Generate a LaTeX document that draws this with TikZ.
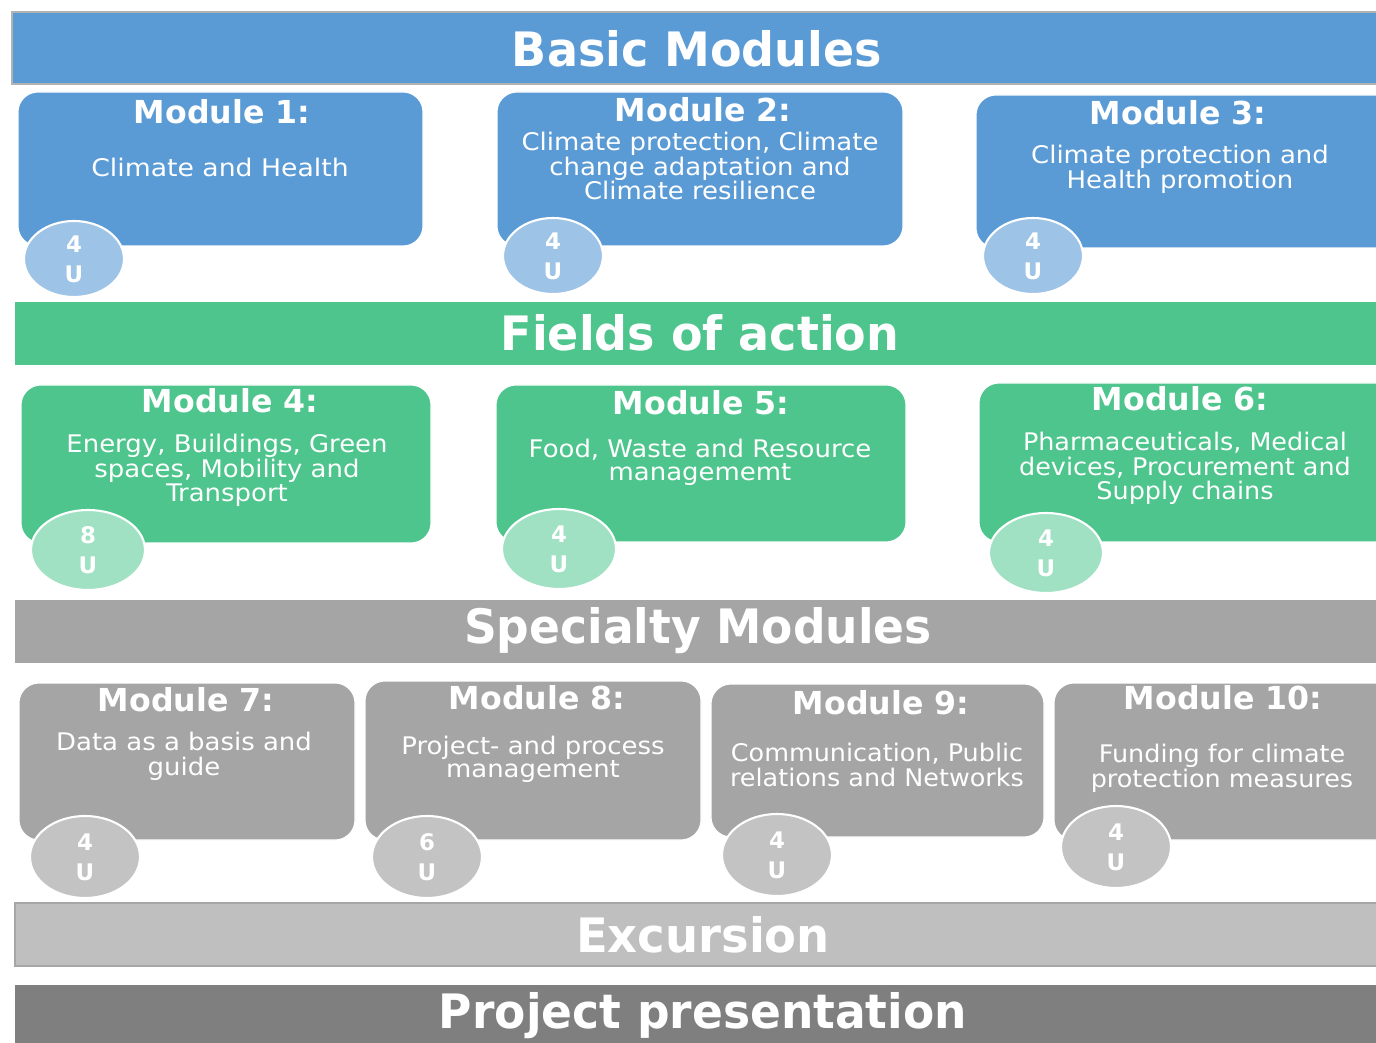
\documentclass[tikz,border=0pt]{standalone}
\usepackage{fontspec}
\setmainfont{DejaVu Sans}
\usetikzlibrary{positioning}
\definecolor{blueband}{HTML}{5B9BD5}
\definecolor{bluedot}{HTML}{9DC3E6}
\definecolor{greenband}{HTML}{4EC58D}
\definecolor{greendot}{HTML}{A0E1C4}
\definecolor{grayband}{HTML}{A5A5A5}
\definecolor{graydot}{HTML}{C3C3C3}
\definecolor{excband}{HTML}{BFBFBF}
\definecolor{presband}{HTML}{7F7F7F}
\renewcommand{\arraystretch}{0.92}
\begin{document}
\begin{tikzpicture}[x=0.02cm,y=-0.02cm,
	bandtitle/.style={text=white,font=\bfseries\fontsize{27}{27}\selectfont},
	modbox/.style={rounded corners=0.4cm,draw=white,line width=0.6pt},
	modtitle/.style={text=white,font=\bfseries\fontsize{18}{18}\selectfont,inner sep=0pt},
	modtext/.style={text=white,font=\fontsize{13.8}{13}\selectfont,align=center,inner sep=0pt},
	units/.style={text=white,align=center,inner sep=0pt,
		font=\bfseries\fontsize{13}{17}\selectfont}]
	\useasboundingbox (0,0) rectangle (1376,1043);
	\clip (0,0) rectangle (1376,1043);
	\fill[white] (0,0) rectangle (1376,1043);

	% basic modules
	\filldraw[blueband,draw=gray!60,line width=1pt] (12,12) rectangle (1390,84);
	\node[bandtitle] (basic) at (697,49) {\scalebox{0.97}[1]{Basic Modules}};

	\filldraw[modbox,fill=blueband] (18,92) rectangle (423,246);
	\node[modtitle] (m1) at (222,112) {Module 1:};
	\node[modtext] (t1) at (220,167) {\scalebox{1.1}[1]{Climate and Health}};
	\filldraw[fill=bluedot,draw=white,line width=1.2pt] (74,259) ellipse (50 and 38);
	\node[units] (u1) at (74,259) {4\\U};

	\filldraw[modbox,fill=blueband] (497,92) rectangle (903,246);
	\node[modtitle] (m2) at (703,110) {Module 2:};
	\node[modtext] (t2) at (700,169) {\scalebox{1.07}[1]{\begin{tabular}{@{}c@{}}Climate protection, Climate\\change adaptation and\\Climate resilience\end{tabular}}};
	\filldraw[fill=bluedot,draw=white,line width=1.2pt] (553,256) ellipse (50 and 38);
	\node[units] (u2) at (553,256) {4\\U};

	\filldraw[modbox,fill=blueband] (976,95) rectangle (1400,248);
	\node[modtitle] (m3) at (1178,113) {Module 3:};
	\node[modtext] (t3) at (1180,170) {\scalebox{1.07}[1]{\begin{tabular}{@{}c@{}}Climate protection and\\Health promotion\end{tabular}}};
	\filldraw[fill=bluedot,draw=white,line width=1.2pt] (1033,256) ellipse (50 and 38);
	\node[units] (u3) at (1033,256) {4\\U};

	% fields of action
	\fill[greenband] (15,302) rectangle (1390,365);
	\node[bandtitle] (fields) at (700,333) {\scalebox{0.97}[1]{Fields of action}};

	\filldraw[modbox,fill=greenband] (21,385) rectangle (431,543);
	\node[modtitle] (m4) at (230,401) {Module 4:};
	\node[modtext] (t4) at (227,471) {\scalebox{1.07}[1]{\begin{tabular}{@{}c@{}}Energy, Buildings, Green\\spaces, Mobility and\\Transport\end{tabular}}};
	\filldraw[fill=greendot,draw=white,line width=1.2pt] (88,550) ellipse (57 and 40);
	\node[units] (u4) at (88,550) {8\\U};

	\filldraw[modbox,fill=greenband] (496,385) rectangle (906,542);
	\node[modtitle] (m5) at (701,403) {Module 5:};
	\node[modtext] (t5) at (700,463) {\scalebox{1.07}[1]{\begin{tabular}{@{}c@{}}Food, Waste and Resource\\managememt\end{tabular}}};
	\filldraw[fill=greendot,draw=white,line width=1.2pt] (559,549) ellipse (57 and 40);
	\node[units] (u5) at (559,549) {4\\U};

	\filldraw[modbox,fill=greenband] (979,383) rectangle (1400,542);
	\node[modtitle] (m6) at (1180,399) {Module 6:};
	\node[modtext] (t6) at (1185,469) {\scalebox{1.05}[1]{\begin{tabular}{@{}c@{}}Pharmaceuticals, Medical\\devices, Procurement and\\Supply chains\end{tabular}}};
	\filldraw[fill=greendot,draw=white,line width=1.2pt] (1046,553) ellipse (57 and 40);
	\node[units] (u6) at (1046,553) {4\\U};

	% specialty modules
	\fill[grayband] (15,600) rectangle (1390,663);
	\node[bandtitle] (special) at (698,631) {\scalebox{0.96}[1]{Specialty Modules}};

	\filldraw[modbox,fill=grayband] (19,683) rectangle (355,840);
	\node[modtitle] (m7) at (186,700) {Module 7:};
	\node[modtext] (t7) at (184,757) {\scalebox{1.07}[1]{\begin{tabular}{@{}c@{}}Data as a basis and\\guide\end{tabular}}};
	\filldraw[fill=graydot,draw=white,line width=1.2pt] (85,857) ellipse (55 and 41);
	\node[units] (u7) at (85,857) {4\\U};

	\filldraw[modbox,fill=grayband] (365,681) rectangle (701,840);
	\node[modtitle] (m8) at (537,698) {Module 8:};
	\node[modtext] (t8) at (533,760) {\scalebox{1.07}[1]{\begin{tabular}{@{}c@{}}Project- and process\\management\end{tabular}}};
	\filldraw[fill=graydot,draw=white,line width=1.2pt] (427,857) ellipse (55 and 41);
	\node[units] (u8) at (427,857) {6\\U};

	\filldraw[modbox,fill=grayband] (711,684) rectangle (1044,837);
	\node[modtitle] (m9) at (881,703) {Module 9:};
	\node[modtext] (t9) at (877,768) {\scalebox{1.05}[1]{\begin{tabular}{@{}c@{}}Communication, Public\\relations and Networks\end{tabular}}};
	\filldraw[fill=graydot,draw=white,line width=1.2pt] (777,855) ellipse (55 and 41);
	\node[units] (u9) at (777,855) {4\\U};

	\filldraw[modbox,fill=grayband] (1054,683) rectangle (1400,840);
	\node[modtitle] (m10) at (1223,698) {Module 10:};
	\node[modtext] (t10) at (1222,769) {\scalebox{1.05}[1]{\begin{tabular}{@{}c@{}}Funding for climate\\protection measures\end{tabular}}};
	\filldraw[fill=graydot,draw=white,line width=1.2pt] (1116,847) ellipse (55 and 41);
	\node[units] (u10) at (1116,847) {4\\U};

	% excursion and presentation
	\filldraw[excband,draw=gray!70,line width=1pt] (15,903) rectangle (1390,966);
	\node[bandtitle] (exc) at (703,935) {\scalebox{0.98}[1]{Excursion}};
	\fill[presband] (15,985) rectangle (1390,1050);
	\node[bandtitle] (pres) at (703,1016) {\scalebox{0.96}[1]{Project presentation}};
\end{tikzpicture}
\end{document}
